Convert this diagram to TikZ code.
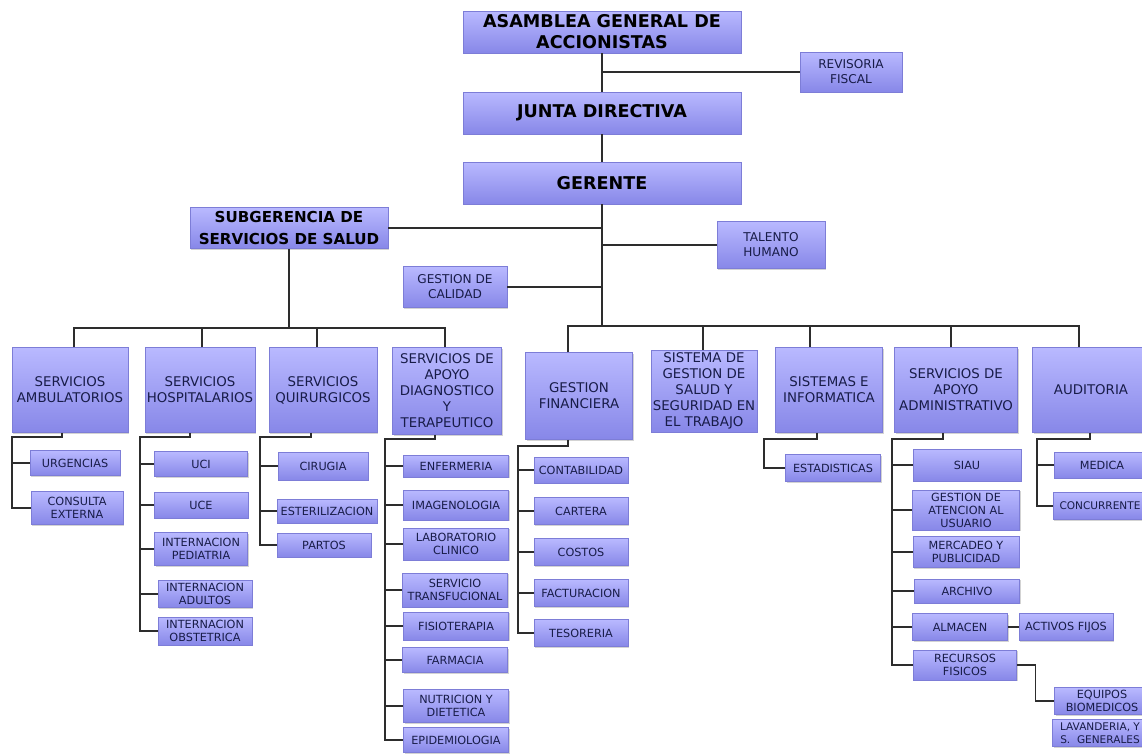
\documentclass[tikz,border=0pt]{standalone}
\usepackage{fontspec}
\setmainfont{DejaVu Sans}
\usetikzlibrary{calc,shadows}

\definecolor{boxtop}{RGB}{185,185,255}
\definecolor{boxblue}{RGB}{158,158,250}
\definecolor{boxbot}{RGB}{135,135,232}
\definecolor{boxedge}{RGB}{125,125,215}
\definecolor{txtblue}{RGB}{24,28,72}
\definecolor{linegray}{RGB}{45,45,45}

\tikzset{
  box/.style={rectangle, top color=boxtop, middle color=boxblue, bottom color=boxbot,
    draw=boxedge, line width=0.3pt, align=center, inner sep=1pt, text=txtblue,
    drop shadow={shadow xshift=0.8pt, shadow yshift=-0.8pt, opacity=0.35}},
  sz/.style 2 args={minimum width=#1*0.02cm, minimum height=#2*0.02cm},
  topbox/.style={box, text=black, font=\bfseries\fontsize{10}{12}\selectfont},
  sidebox/.style={box, font=\fontsize{6.9}{8.5}\selectfont},
  midbox/.style={box, font=\fontsize{7.6}{9.1}\selectfont},
  smallbox/.style={box, font=\fontsize{6.4}{7.4}\selectfont},
  link/.style={draw=linegray, line width=0.7pt},
}

\begin{document}
\begin{tikzpicture}[x=0.02cm, y=-0.02cm]
    \useasboundingbox (0,0) rectangle (1142,754);
    \clip (0,0) rectangle (1142,754);

    % Direction
    \node[topbox, sz={278}{42}] (asam) at (602,32) {ASAMBLEA GENERAL DE\\ACCIONISTAS};
    \node[sidebox, sz={102}{40}] (rev) at (851,72) {REVISORIA\\FISCAL};
    \node[topbox, sz={278}{42}] (junta) at (602,113) {JUNTA DIRECTIVA};
    \node[topbox, sz={278}{42}] (ger) at (602,183) {GERENTE};
    \node[topbox, sz={198}{41}, font=\bfseries\fontsize{8.6}{12}\selectfont] (subg) at (289,228) {SUBGERENCIA DE\\SERVICIOS DE SALUD};
    \node[sidebox, sz={108}{47}] (tal) at (771,245) {TALENTO\\HUMANO};
    \node[sidebox, sz={104}{41}] (cal) at (455,287) {GESTION DE\\CALIDAD};

    % Areas
    \foreach \nm/\cx/\cy/\w/\h/\txt in {
        amb/70/390/116/85/{SERVICIOS\\AMBULATORIOS},
        hosp/200/390/108/85/{SERVICIOS\\HOSPITALARIOS},
        quir/323/390/108/85/{SERVICIOS\\QUIRURGICOS},
        diag/447/391/109/87/{SERVICIOS DE\\APOYO\\DIAGNOSTICO\\Y\\TERAPEUTICO},
        fin/579/396/107/87/{GESTION\\FINANCIERA},
        sgsst/704/391/106/82/{SISTEMA DE\\GESTION DE\\SALUD Y\\SEGURIDAD EN\\EL TRABAJO},
        sist/829/390/107/85/{SISTEMAS E\\INFORMATICA},
        adm/956/390/123/85/{SERVICIOS DE\\APOYO\\ADMINISTRATIVO},
        aud/1091/390/117/85/{AUDITORIA}} {
        \node[midbox, sz={\w}{\h}] (\nm) at (\cx,\cy) {\txt};
    }

    % Units under each area
    \foreach \nm/\cx/\cy/\w/\h/\txt in {
        urg/75/463/90/25/URGENCIAS, cons/77/508/92/33/{CONSULTA\\EXTERNA},
        uci/201/464/93/25/UCI, uce/201/505/94/26/UCE,
        intped/201/549/93/33/{INTERNACION\\PEDIATRIA},
        intad/205/594/94/27/{INTERNACION\\ADULTOS},
        intob/205/631/94/28/{INTERNACION\\OBSTETRICA},
        cir/323/466/90/28/CIRUGIA, est/327/511/100/24/ESTERILIZACION, par/324/545/94/24/PARTOS,
        enf/456/466/105/22/ENFERMERIA, ima/456/505/105/30/IMAGENOLOGIA,
        lab/456/544/105/32/{LABORATORIO\\CLINICO},
        tra/455/590/105/34/{SERVICIO\\TRANSFUCIONAL},
        fis/456/626/105/28/FISIOTERAPIA, far/455/660/105/25/FARMACIA,
        nut/456/706/105/33/{NUTRICION Y\\DIETETICA}, epi/456/740/105/25/EPIDEMIOLOGIA,
        cont/581/470/94/26/CONTABILIDAD, cart/581/511/94/27/CARTERA, cost/581/552/94/27/COSTOS,
        fact/581/593/94/27/FACTURACION, tes/581/633/94/27/TESORERIA,
        esta/833/468/95/27/ESTADISTICAS,
        siau/967/465/108/32/SIAU, gau/966/510/107/40/{GESTION DE\\ATENCION AL\\USUARIO},
        mer/966/552/106/31/{MERCADEO Y\\PUBLICIDAD}, arc/967/591/105/24/ARCHIVO,
        alm/960/627/95/27/ALMACEN, rec/965/665/103/30/{RECURSOS\\FISICOS},
        act/1066/627/94/27/{ACTIVOS FIJOS}, equ/1102/701/95/27/{EQUIPOS\\BIOMEDICOS},
        med/1102/465/95/26/MEDICA} {
        \node[smallbox, sz={\w}{\h}] (\nm) at (\cx,\cy) {\txt};
    }
    \node[smallbox, sz={94}{27}, font=\fontsize{6}{7.4}\selectfont] (conc) at (1100,506) {CONCURRENTE};
    \node[smallbox, sz={95}{27}, font=\fontsize{6}{7.4}\selectfont] (lav) at (1100,733) {LAVANDERIA, Y\\S.\ \ GENERALES};

    % Trunk and side offices
    \coordinate (busL) at (0,328);
    \coordinate (busR) at (0,326);
    \draw[link] (asam) -- (junta);
    \draw[link] (junta) -- (ger);
    \draw[link] (rev.west) -- (rev.west -| asam.south);
    \draw[link] (ger.south) -- (ger.south |- busR);
    \draw[link] (subg.east) -- (subg.east -| ger.south);
    \draw[link] (tal.west) -- (tal.west -| ger.south);
    \draw[link] (cal.east) -- (cal.east -| ger.south);
    \draw[link] (subg.south) -- (subg.south |- busL);

    % Buses to the areas
    \foreach \n/\dx in {amb/4, hosp/2, quir/-6, diag/-2}
        \draw[link] ($(\n.north)+(\dx,0)$) |- (subg.south |- busL);
    \foreach \n/\dx in {fin/-11, sgsst/-1, sist/-19, adm/-5, aud/-12}
        \draw[link] ($(\n.north)+(\dx,0)$) |- (ger.south |- busR);

    % Rails on the left of each group
    \foreach \g/\rx/\ry in {amb/12/437, hosp/140/437, quir/260/437, diag/385/439,
                            fin/518/446, sist/764/439, adm/892/439, aud/1037/439}
        \coordinate (R-\g) at (\rx,\ry);
    \foreach \g/\dx/\last in {amb/-8/cons, hosp/-10/intob, quir/-12/par, diag/-12/epi,
                              fin/-11/tes, sist/-12/esta, adm/-13/rec, aud/-1/conc}
        \draw[link] ($(\g.south)+(\dx,0)$) |- (R-\g) |- (\last.west);
    \foreach \c/\g in {urg/amb, uci/hosp, uce/hosp, intped/hosp, intad/hosp,
                       cir/quir, est/quir, enf/diag, ima/diag, lab/diag, tra/diag,
                       fis/diag, far/diag, nut/diag, cont/fin, cart/fin, cost/fin,
                       fact/fin, siau/adm, gau/adm, mer/adm, arc/adm, alm/adm, med/aud}
        \draw[link] (R-\g |- \c.west) -- (\c.west);

    % Physical resources
    \draw[link] (alm.east) -- (act.west);
    \draw[link] (rec.east) -| ($(equ.west)+(-19,0)$) -- (equ.west);

\end{tikzpicture}
\end{document}
